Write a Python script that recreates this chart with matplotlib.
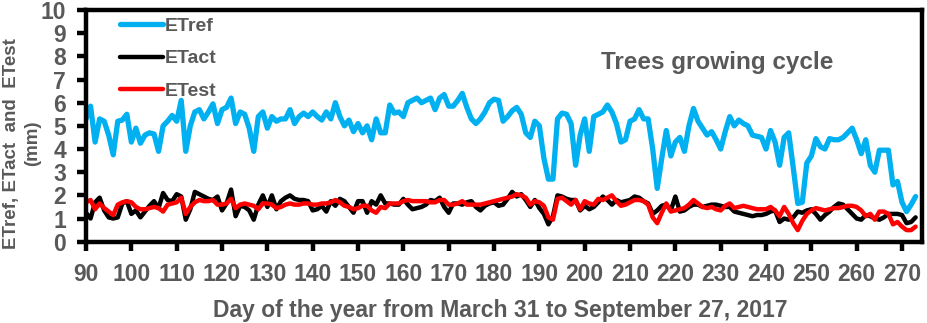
import numpy as np
import matplotlib
matplotlib.use("Agg")
import matplotlib.pyplot as plt

plt.rcParams['font.family'] = ['Liberation Sans', 'DejaVu Sans']
plt.rcParams['font.weight'] = 'bold'

# day of year, March 31 (day 90) onwards
day = np.arange(90, 274)

etref = [5.3, 5.85, 4.3, 5.3, 5.2, 4.6, 3.75, 5.2, 5.25, 5.5, 4.3, 4.9, 4.25, 4.6, 4.7, 4.65, 3.9,
         5.0, 5.2, 5.45, 5.2, 6.1, 3.9, 5.0, 5.6, 5.7, 5.3, 5.6, 5.95, 5.1, 5.7, 5.8, 6.2, 5.1,
         5.6, 5.5, 4.9, 3.9, 5.4, 5.6, 4.9, 5.4, 5.2, 5.3, 5.3, 5.7, 5.1, 5.4, 5.55, 5.4, 5.6,
         5.4, 5.25, 5.6, 5.3, 6.0, 5.4, 5.0, 5.25, 4.75, 5.1, 4.7, 5.0,
         4.4, 5.3, 4.7, 4.7, 5.9, 5.55, 5.6, 5.4, 6.0, 6.1, 6.2, 6.0, 6.1, 6.2, 5.7, 6.2, 6.35,
         5.85, 5.85, 6.1, 6.4, 5.8, 5.3, 5.1, 5.3, 5.6, 6.0, 6.15, 6.1, 5.2, 5.4,
         5.65, 5.8, 5.5, 4.7, 4.5, 5.2, 5.0, 3.6, 2.7, 2.7, 5.3, 5.55, 5.5, 5.1, 3.3, 4.6, 5.3,
         3.9, 5.4, 5.5, 5.6, 5.9, 5.6, 5.1, 4.3, 4.4, 5.2, 5.3, 5.7, 5.3,
         5.3, 4.0, 2.3, 3.6, 4.8, 3.7, 4.3, 4.5, 3.9, 5.0, 5.75, 5.2, 4.9, 4.6, 4.75, 4.4, 4.0,
         4.75, 5.4, 5.0, 5.25, 5.1, 5.0, 4.6, 4.55, 4.5, 4.0, 4.8, 4.3, 3.3,
         4.5, 4.7, 3.2, 1.65, 1.7, 3.4, 3.7, 4.45, 4.1, 4.0, 4.45, 4.4, 4.4, 4.5, 4.7, 4.9, 4.4,
         3.8, 4.4, 3.3, 3.0, 3.95, 3.95, 3.95, 2.45, 2.6, 1.7, 1.3, 1.6, 1.95]

etact = [1.25, 1.0, 1.7, 1.9, 1.35, 1.05, 1.0, 1.05, 1.65, 1.75, 1.2, 1.35, 1.05, 1.3, 1.55, 1.75,
         1.45, 2.1, 1.8, 1.75, 2.05, 1.95, 0.95, 1.4, 2.15, 2.05, 1.95, 1.85, 1.8, 1.95, 1.35, 1.65,
         2.25, 1.1,
         1.55, 1.5, 1.35, 0.95, 1.6, 2.0, 1.5, 2.0, 1.4, 1.75, 1.9, 2.0, 1.85, 1.8, 1.8, 1.75, 1.35,
         1.4, 1.55, 1.3, 1.75, 1.55, 1.85, 1.75, 1.5, 1.25, 1.75, 1.75, 1.25,
         1.75, 1.6, 2.0, 1.65, 1.65, 1.6, 1.6, 1.85, 1.6, 1.4, 1.45, 1.5, 1.6, 1.8, 1.75, 1.9, 1.5,
         1.25, 1.65, 1.65, 1.6, 1.7, 1.75, 1.5, 1.35, 1.55, 1.65, 1.7, 1.55, 1.6, 1.85,
         2.15, 1.95, 2.05, 1.8, 1.5, 1.8, 1.45, 1.2, 0.75, 1.1, 2.0, 1.95, 1.85, 1.8, 1.8, 1.35,
         1.55, 1.4, 1.5, 1.7, 1.95, 1.8, 1.6, 1.8, 1.7, 1.75, 1.8, 1.95, 1.9, 1.75,
         1.65, 1.2, 1.35, 1.55, 1.6, 1.35, 1.95, 1.3, 1.35, 1.5, 1.6, 1.6, 1.5, 1.55, 1.6, 1.6,
         1.55, 1.5, 1.5, 1.3, 1.25, 1.2, 1.15, 1.1, 1.15, 1.15, 1.2, 1.3, 1.35, 0.85,
         1.0, 0.95, 1.05, 1.3, 1.25, 1.35, 1.4, 1.2, 0.95, 1.15, 1.3, 1.5, 1.65, 1.6, 1.4, 1.2,
         1.0, 0.95, 1.15, 1.1, 1.0, 0.95, 1.05, 1.2, 1.2, 1.2, 1.15, 0.8, 0.85, 1.05]

etest = [1.7, 1.8, 1.4, 1.65, 1.45, 1.3, 1.15, 1.6, 1.7, 1.75, 1.7, 1.5, 1.4, 1.4, 1.45, 1.5, 1.45,
         1.3, 1.6, 1.65, 1.7, 1.9, 1.2, 1.5, 1.7, 1.8, 1.75, 1.75, 1.8, 1.6, 1.6, 1.65, 1.85, 1.45,
         1.6, 1.65, 1.6, 1.55, 1.4, 1.65, 1.65, 1.6, 1.45, 1.5, 1.6, 1.65, 1.6, 1.6, 1.65, 1.65,
         1.6, 1.6, 1.65, 1.65, 1.7, 1.8, 1.7, 1.55, 1.5, 1.4, 1.45, 1.55, 1.55,
         1.35, 1.25, 1.5, 1.45, 1.65, 1.65, 1.65, 1.75, 1.8, 1.75, 1.75, 1.75, 1.75, 1.7, 1.7, 1.8,
         1.8, 1.6, 1.6, 1.65, 1.75, 1.6, 1.6, 1.6, 1.6, 1.65, 1.7, 1.75, 1.8, 1.85, 1.9,
         1.95, 2.05, 2.0, 1.9, 1.6, 1.75, 1.7, 1.55, 1.05, 0.95, 1.85, 1.9, 1.75, 1.6, 1.8, 1.4,
         1.75, 1.65, 1.6, 1.85, 1.8, 1.9, 2.0, 1.75, 1.55, 1.6, 1.7, 1.8, 1.8, 1.75,
         1.6, 1.05, 0.8, 1.25, 1.65, 1.3, 1.35, 1.4, 1.45, 1.6, 1.8, 1.65, 1.5, 1.45, 1.5, 1.4,
         1.35, 1.55, 1.65, 1.45, 1.5, 1.55, 1.5, 1.45, 1.4, 1.4, 1.4, 1.5, 1.35, 1.1,
         1.5, 1.2, 0.8, 0.5, 0.9, 1.2, 1.35, 1.45, 1.4, 1.35, 1.4, 1.45, 1.45, 1.5, 1.55, 1.55,
         1.5, 1.35, 1.1, 1.2, 0.95, 1.3, 1.3, 1.2, 0.75, 0.85, 0.65, 0.5, 0.5, 0.65]

gray = '#595959'

fig = plt.figure(figsize=(9.28, 3.23), dpi=100)
ax = fig.add_axes([0.0927, 0.2517, 0.9008, 0.7173])

ax.plot(day, etref, color='#00B0F0', lw=3.8, solid_joinstyle='round', solid_capstyle='round', label='ETref')
ax.plot(day, etact, color='black', lw=3.2, solid_joinstyle='round', solid_capstyle='round', label='ETact')
ax.plot(day, etest, color='#FF0000', lw=3.2, solid_joinstyle='round', solid_capstyle='round', label='ETest')

ax.set_xlim(90, 274.4)
ax.set_ylim(0, 10)
ax.set_xticks(np.arange(90, 271, 10))
ax.set_yticks(np.arange(0, 11, 1))
for s in ax.spines.values():
    s.set_linewidth(3.2)
ax.tick_params(axis='both', width=3.2, length=6.5, labelsize=16.5, labelcolor=gray)
ax.tick_params(axis='x', pad=9)
ax.tick_params(axis='y', pad=8)
for lab in ax.get_xticklabels() + ax.get_yticklabels():
    lab.set_fontweight('bold')

leg = ax.legend(loc='upper left', bbox_to_anchor=(0.02, 1.045), frameon=False,
                handlelength=2.2, handletextpad=0.1, labelspacing=0.78,
                prop={'size': 14, 'weight': 'bold'})
for t in leg.get_texts():
    t.set_color(gray)

fig.text(0.773, 0.808, 'Trees growing cycle', ha='center', va='center',
         fontsize=17.5, fontweight='bold', color=gray)
fig.text(0.539, 0.04, 'Day of the year from March 31 to September 27, 2017',
         ha='center', va='center', fontsize=16.5, fontweight='bold', color=gray)
fig.text(0.024, 0.555, 'ETref, ETact  and  ETest\n(mm)', rotation=90, ha='center',
         va='center', multialignment='center', fontsize=13.5, fontweight='bold',
         color=gray, linespacing=1.3)

fig.savefig('out.png', dpi=100)
